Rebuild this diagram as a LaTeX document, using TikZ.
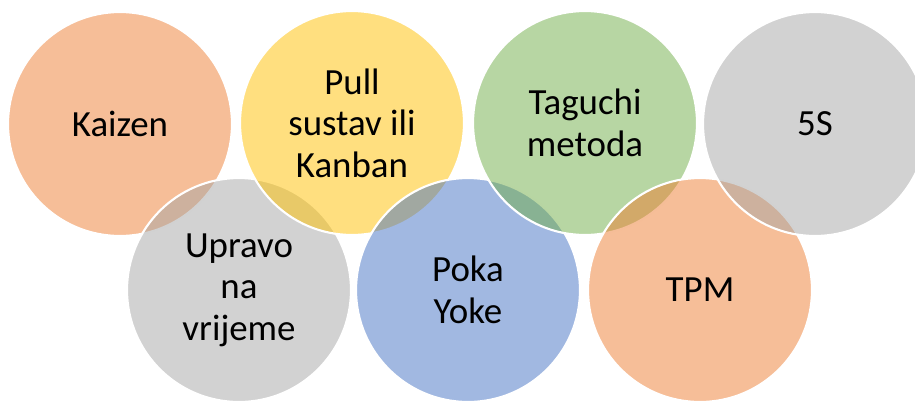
\documentclass[tikz,border=0pt]{standalone}
\usepackage{fontspec}
\setmainfont{Carlito}
\usepackage{tikz}
\definecolor{accorange}{RGB}{237, 125, 49}
\definecolor{accyellow}{RGB}{255, 192, 0}
\definecolor{accgreen}{RGB}{112, 173, 71}
\definecolor{accblue}{RGB}{68, 114, 196}
\definecolor{accgray}{RGB}{165, 165, 165}
\tikzset{
    ball/.style={circle, draw=white, line width=1.2pt, fill opacity=0.5, text opacity=1,
        minimum size=4.48cm, inner sep=0pt, align=center,
        font=\fontsize{21}{23.6}\selectfont},
}

\begin{document}
\begin{tikzpicture}[x=0.02cm, y=-0.02cm]

    \useasboundingbox (0,0) rectangle (915,400);
    \clip (0,0) rectangle (915,400);

    % alternating order: top, bottom, top, ...
    \node[ball, fill=accorange] (kaizen) at (120,124) {Kaizen};
    \node[ball, fill=accgray] (upravo) at (239,290) {Upravo\\na\\vrijeme};
    \node[ball, fill=accyellow] (pull) at (352,123) {Pull\\sustav ili\\Kanban};
    \node[ball, fill=accblue] (poka) at (468,290) {Poka\\Yoke};
    \node[ball, fill=accgreen] (taguchi) at (585,123) {Taguchi\\metoda};
    \node[ball, fill=accorange] (tpm) at (700,290) {TPM};
    \node[ball, fill=accgray] (fives) at (815,124) {5S};

\end{tikzpicture}
\end{document}
